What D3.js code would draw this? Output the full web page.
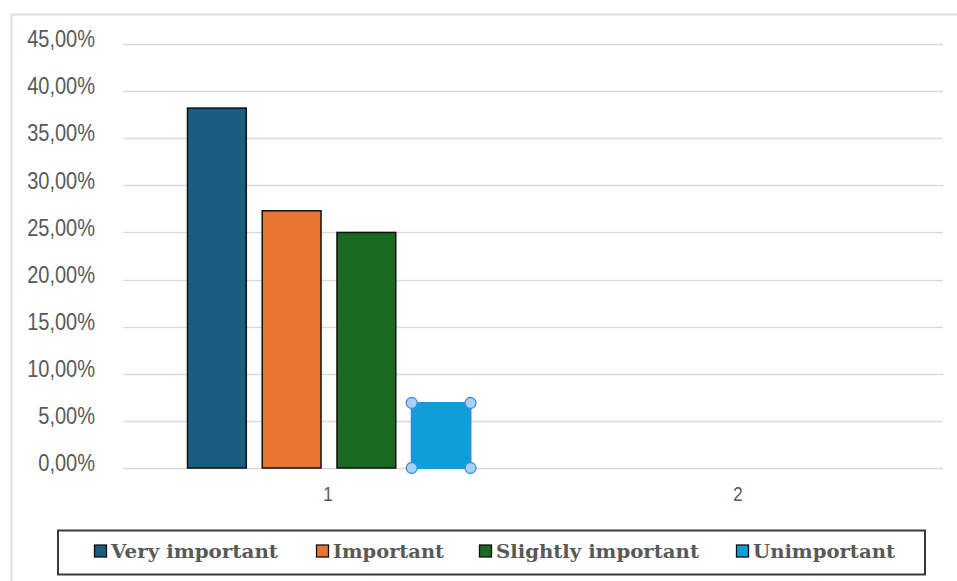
<!DOCTYPE html>
<html>
<head>
<meta charset="utf-8">
<script src="https://cdn.jsdelivr.net/npm/d3@7"></script>
<style>
  html, body { margin: 0; padding: 0; background: #fff; }
  svg { display: block; }
</style>
</head>
<body>
<svg id="chart" width="957" height="581"></svg>
<script>
// ---- data ----
const categories = ["1", "2"];
const seriesNames = ["Very important", "Important", "Slightly important", "Unimportant"];
const seriesColors = ["#175e80", "#e97431", "#1b6a23", "#0f9ed8"];
const values = {
  "Very important":     [0.382, 0],
  "Important":          [0.273, 0],
  "Slightly important": [0.250, 0],
  "Unimportant":        [0.069, 0]
};
const yTicks = [0, 0.05, 0.10, 0.15, 0.20, 0.25, 0.30, 0.35, 0.40, 0.45];
const selectedSeries = "Unimportant";

// ---- layout ----
const svg = d3.select("#chart");
const plot = { left: 123, right: 943, top: 44, bottom: 468 };

// outer chart border (top & left visible)
svg.append("line").attr("x1", 11).attr("x2", 957).attr("y1", 14.5).attr("y2", 14.5)
  .attr("stroke", "#e0e0e0").attr("stroke-width", 2);
svg.append("line").attr("x1", 11.5).attr("x2", 11.5).attr("y1", 14).attr("y2", 581)
  .attr("stroke", "#e0e0e0").attr("stroke-width", 2);

const y = d3.scaleLinear().domain([0, 0.45]).range([plot.bottom, plot.top]);
const x0 = d3.scaleBand().domain(categories).range([plot.left, plot.right]).paddingInner(0).paddingOuter(0);
const groupWidth = 284;
const x1 = d3.scaleBand().domain(seriesNames)
  .range([x0.bandwidth() / 2 - groupWidth / 2 + 1, x0.bandwidth() / 2 + groupWidth / 2 + 1])
  .paddingInner(0.2).paddingOuter(0);

// gridlines
svg.append("g").selectAll("line").data(yTicks).join("line")
  .attr("x1", plot.left).attr("x2", plot.right)
  .attr("y1", d => Math.round(y(d)) + 0.5).attr("y2", d => Math.round(y(d)) + 0.5)
  .attr("stroke", "#d9d9d9").attr("stroke-width", 1.5);

// y axis labels
const fmt = d => (d * 100).toFixed(2).replace(".", ",") + "%";
const yAxis = d3.axisLeft(y).tickValues(yTicks).tickFormat(fmt).tickSize(0).tickPadding(0);
const yg = svg.append("g").attr("transform", `translate(95,0)`).call(yAxis);
yg.select(".domain").remove();
yg.selectAll("text")
  .attr("font-family", "'Liberation Sans Narrow', 'Arial Narrow', 'Liberation Sans', sans-serif")
  .attr("font-size", 23).attr("fill", "#595959")
  .attr("dy", "0.12em")
  .attr("transform", "scale(0.87,1)");

// x axis labels
const xAxis = d3.axisBottom(x0).tickSize(0).tickPadding(0);
const xg = svg.append("g").attr("transform", `translate(0,${plot.bottom + 19})`).call(xAxis);
xg.select(".domain").remove();
xg.selectAll("text")
  .attr("font-family", "'Liberation Sans', sans-serif")
  .attr("font-size", 20).attr("fill", "#595959")
  .attr("transform", "scale(0.85,1)");

// bars
const flat = [];
categories.forEach((c, ci) => {
  seriesNames.forEach((s, si) => flat.push({ cat: c, series: s, value: values[s][ci], color: seriesColors[si] }));
});
const barData = flat.filter(d => d.value > 0);
svg.append("g").selectAll("rect").data(barData).join("rect")
  .attr("x", d => x0(d.cat) + x1(d.series) + 0.5)
  .attr("y", d => y(d.value))
  .attr("width", x1.bandwidth() - 1)
  .attr("height", d => y(0) - y(d.value))
  .attr("fill", d => d.color)
  .attr("stroke", d => d.series === selectedSeries ? "#2f8fdc" : "#111")
  .attr("stroke-width", d => d.series === selectedSeries ? 2 : 1.5);

// selection handles on the selected bar
const sel = barData.filter(d => d.series === selectedSeries);
const handles = [];
sel.forEach(d => {
  const xa = x0(d.cat) + x1(d.series) + 0.5, xb = xa + x1.bandwidth() - 1;
  const ya = y(d.value), yb = y(0);
  handles.push([xa, ya], [xb, ya], [xa, yb], [xb, yb]);
});
svg.append("g").selectAll("circle").data(handles).join("circle")
  .attr("cx", d => d[0]).attr("cy", d => d[1]).attr("r", 5.5)
  .attr("fill", "#a9d0f5").attr("stroke", "#3a8fdc").attr("stroke-width", 1.3);

// legend
const lg = svg.append("g");
lg.append("rect").attr("x", 58).attr("y", 530.5).attr("width", 867).attr("height", 44)
  .attr("fill", "#fff").attr("stroke", "#3a3a3a").attr("stroke-width", 2);
const legendX = [94, 316, 479, 736];
const legendTextLen = [167, 111, 203, 142];
const items = lg.selectAll("g.item").data(seriesNames).join("g").attr("class", "item")
  .attr("transform", (d, i) => `translate(${legendX[i]},0)`);
items.append("rect").attr("x", 0.5).attr("y", 545).attr("width", 12).attr("height", 12)
  .attr("fill", (d, i) => seriesColors[i]).attr("stroke", "#111").attr("stroke-width", 1.3);
items.append("text").attr("x", 17).attr("y", 557.5)
  .attr("font-family", "'DejaVu Serif', 'Liberation Serif', serif")
  .attr("font-weight", "bold").attr("font-size", 19).attr("fill", "#595959")
  .attr("textLength", (d, i) => legendTextLen[i]).attr("lengthAdjust", "spacingAndGlyphs")
  .text(d => d);
</script>
</body>
</html>
